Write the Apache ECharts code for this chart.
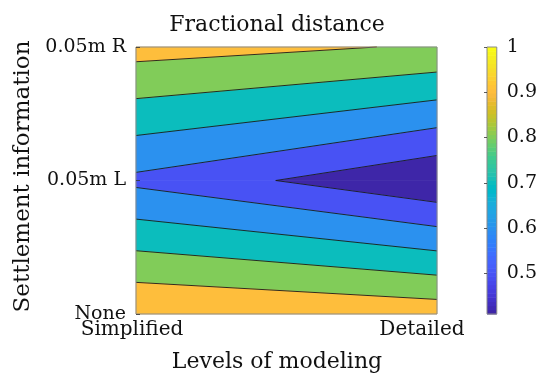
<!DOCTYPE html>
<html>
<head>
<meta charset="utf-8">
<script src="https://cdn.jsdelivr.net/npm/echarts@6/dist/echarts.min.js"></script>
<style>
html, body { margin: 0; padding: 0; background: #fff; }
#chart { width: 540px; height: 378px; }
</style>
</head>
<body>
<div id="chart"></div>
<script>
// grid of the contour plot: two modelling levels x three settlement cases
const xLabels = ['Simplified', 'Detailed'];
const yLabels = ['None', '0.05m L', '0.05m R'];
// fractional distance at each node, listed bottom (None) to top (0.05m R)
const simplifiedVals = [1.00, 0.578, 0.94];
const detailedVals = [0.96, 0.41, 0.89];
const levels = [0.5, 0.6, 0.7, 0.8, 0.9];
const cbTicks = [0.5, 0.6, 0.7, 0.8, 0.9, 1];
const cMin = 0.41;
const cMax = 1.0;

// parula, 64 entries
const parula = [
  '#3e26a8', '#402ab4', '#422ec0', '#4332cb', '#4537d5', '#463cde', '#4741e5', '#4747eb',
  '#484df0', '#4852f4', '#4758f8', '#465efb', '#4563fd', '#4269fe', '#3e6fff', '#3875fe',
  '#327cfc', '#2f81fa', '#2e87f7', '#2d8cf3', '#2b91ef', '#2796eb', '#259be8', '#23a0e5',
  '#20a5e3', '#1ca9df', '#18addb', '#12b1d6', '#08b5d0', '#01b8ca', '#02bac3', '#0bbdbd',
  '#19bfb6', '#24c1ae', '#2cc4a7', '#31c69f', '#37c897', '#3fca8e', '#4acb84', '#57cc7a',
  '#64cd6f', '#72cd64', '#81cc59', '#8fcb4e', '#9dc943', '#abc739', '#b9c431', '#c5c22a',
  '#d1bf27', '#dcbd29', '#e6bb2d', '#f0ba36', '#f8ba3d', '#febe3c', '#fec338', '#fec934',
  '#fccf30', '#fad62d', '#f7dc2a', '#f5e327', '#f5e924', '#f6ef20', '#f7f51b', '#f9fb15'
];

function cmap(v) {
  let i = Math.floor((v - cMin) / (cMax - cMin) * parula.length);
  return parula[Math.max(0, Math.min(parula.length - 1, i))];
}

// node values: nodes[j][i] -> x = i, y = j
const nodes = yLabels.map((_, j) => [simplifiedVals[j], detailedVals[j]]);

function cross(a, b, fa, fb) {
  const t = fa / (fa - fb);
  return [a[0] + t * (b[0] - a[0]), a[1] + t * (b[1] - a[1]), a[2] + t * (b[2] - a[2])];
}
function clip(poly, keep) {
  const out = [];
  for (let i = 0; i < poly.length; i++) {
    const a = poly[i], b = poly[(i + 1) % poly.length];
    const fa = keep(a[2]), fb = keep(b[2]);
    if (fa >= 0 && fb >= 0) out.push(b);
    else if (fa >= 0 && fb < 0) out.push(cross(a, b, fa, fb));
    else if (fa < 0 && fb >= 0) { out.push(cross(a, b, fa, fb)); out.push(b); }
  }
  return out;
}

// filled bands and contour lines, cell by cell (straight segments like contourf)
const bands = [];
const segs = [];
for (let j = 0; j < yLabels.length - 1; j++) {
  const cell = [
    [0, j, nodes[j][0]], [1, j, nodes[j][1]],
    [1, j + 1, nodes[j + 1][1]], [0, j + 1, nodes[j + 1][0]]
  ];
  for (let k = 0; k <= levels.length; k++) {
    let poly = cell;
    if (k > 0) poly = clip(poly, v => v - levels[k - 1]);
    if (k < levels.length) poly = clip(poly, v => levels[k] - v);
    if (poly.length >= 3) {
      bands.push({ pts: poly, color: k === 0 ? cmap(cMin) : cmap(levels[k - 1]) });
    }
  }
  levels.forEach(L => {
    const hits = [];
    for (let e = 0; e < 4; e++) {
      const a = cell[e], b = cell[(e + 1) % 4];
      if ((a[2] - L) * (b[2] - L) < 0) hits.push(cross(a, b, a[2] - L, b[2] - L));
    }
    if (hits.length === 2) segs.push([hits[0][0], hits[0][1], hits[1][0], hits[1][1]]);
  });
}

const serif = 'DejaVu Serif';
const chart = echarts.init(document.getElementById('chart'));

const option = {
  backgroundColor: '#fff',
  animation: false,
  title: {
    text: 'Fractional distance',
    left: 277, top: 14, padding: 0,
    textAlign: 'center',
    textStyle: { fontFamily: serif, fontSize: 22, fontWeight: 'normal', color: '#111' }
  },
  grid: [
    { left: 136, top: 47, width: 301, height: 267 },
    { left: 487, top: 47, width: 17, height: 267 }
  ],
  xAxis: [
    {
      gridIndex: 0, type: 'value', min: 0, max: 1, interval: 1,
      name: 'Levels of modeling', nameLocation: 'middle', nameGap: 37,
      nameTextStyle: { fontFamily: serif, fontSize: 22, color: '#111', padding: [0, 19, 0, 0] },
      axisLine: { show: false }, axisTick: { show: false }, splitLine: { show: false },
      axisLabel: {
        margin: 6,
        formatter: v => (v === 0 ? '{a|' : '{b|') + xLabels[v] + '}',
        rich: {
          a: { fontFamily: serif, fontSize: 20, color: '#111', padding: [0, 8, 0, 0] },
          b: { fontFamily: serif, fontSize: 20, color: '#111', padding: [0, 30, 0, 0] }
        }
      }
    },
    { gridIndex: 1, type: 'value', min: 0, max: 1, show: false }
  ],
  yAxis: [
    {
      gridIndex: 0, type: 'value', min: 0, max: 2, interval: 1, z: 10,
      name: 'Settlement information', nameLocation: 'middle', nameGap: 100, nameRotate: 90,
      nameTextStyle: { fontFamily: serif, fontSize: 23, color: '#111', padding: [0, 0, 0, 8] },
      axisLine: { show: false }, splitLine: { show: false },
      axisTick: { inside: true, length: 4, lineStyle: { color: '#333', width: 0.8 } },
      axisLabel: {
        margin: 10, fontFamily: serif, fontSize: 19, color: '#111',
        formatter: v => yLabels[v]
      }
    },
    {
      gridIndex: 1, type: 'value', min: cMin, max: cMax, position: 'right', z: 10,
      axisLine: { show: false }, splitLine: { show: false },
      axisTick: { inside: true, length: 3, customValues: cbTicks, lineStyle: { color: '#333', width: 0.8 } },
      axisLabel: {
        customValues: cbTicks, margin: 10, fontFamily: serif, fontSize: 19, color: '#111',
        formatter: v => String(+v.toFixed(1))
      }
    }
  ],
  series: [
    {
      type: 'custom', xAxisIndex: 0, yAxisIndex: 0, z: 2,
      data: bands.map((b, i) => [i]),
      renderItem: (params, api) => {
        const b = bands[api.value(0)];
        return {
          type: 'polygon',
          shape: { points: b.pts.map(p => api.coord([p[0], p[1]])) },
          style: { fill: b.color, stroke: b.color, lineWidth: 0.6 }
        };
      }
    },
    {
      type: 'custom', xAxisIndex: 0, yAxisIndex: 0, z: 3,
      data: segs,
      renderItem: (params, api) => {
        const p1 = api.coord([api.value(0), api.value(1)]);
        const p2 = api.coord([api.value(2), api.value(3)]);
        return {
          type: 'line',
          shape: { x1: p1[0], y1: p1[1], x2: p2[0], y2: p2[1] },
          style: { stroke: '#1a1a1a', lineWidth: 0.9 }
        };
      }
    },
    {
      type: 'custom', xAxisIndex: 0, yAxisIndex: 0, z: 4,
      data: [[0]],
      renderItem: (params, api) => {
        const p0 = api.coord([0, 0]), p1 = api.coord([1, yLabels.length - 1]);
        return {
          type: 'rect',
          shape: { x: p0[0], y: p1[1], width: p1[0] - p0[0], height: p0[1] - p1[1] },
          style: { fill: 'none', stroke: '#8a8a8a', lineWidth: 1 }
        };
      }
    },
    {
      type: 'custom', xAxisIndex: 1, yAxisIndex: 1, z: 2,
      data: parula.map((c, i) => [i]),
      renderItem: (params, api) => {
        const i = api.value(0);
        const step = (cMax - cMin) / parula.length;
        const a = api.coord([0, cMin + i * step]);
        const b = api.coord([1, cMin + (i + 1) * step]);
        return {
          type: 'rect',
          shape: { x: a[0], y: b[1], width: b[0] - a[0], height: a[1] - b[1] + 0.5 },
          style: { fill: parula[i] }
        };
      }
    },
    {
      type: 'custom', xAxisIndex: 1, yAxisIndex: 1, z: 4,
      data: [[0]],
      renderItem: (params, api) => {
        const a = api.coord([0, cMin]), b = api.coord([1, cMax]);
        return {
          type: 'rect',
          shape: { x: a[0], y: b[1], width: b[0] - a[0], height: a[1] - b[1] },
          style: { fill: 'none', stroke: '#8a8a8a', lineWidth: 1 }
        };
      }
    }
  ]
};

chart.setOption(option);
</script>
</body>
</html>
